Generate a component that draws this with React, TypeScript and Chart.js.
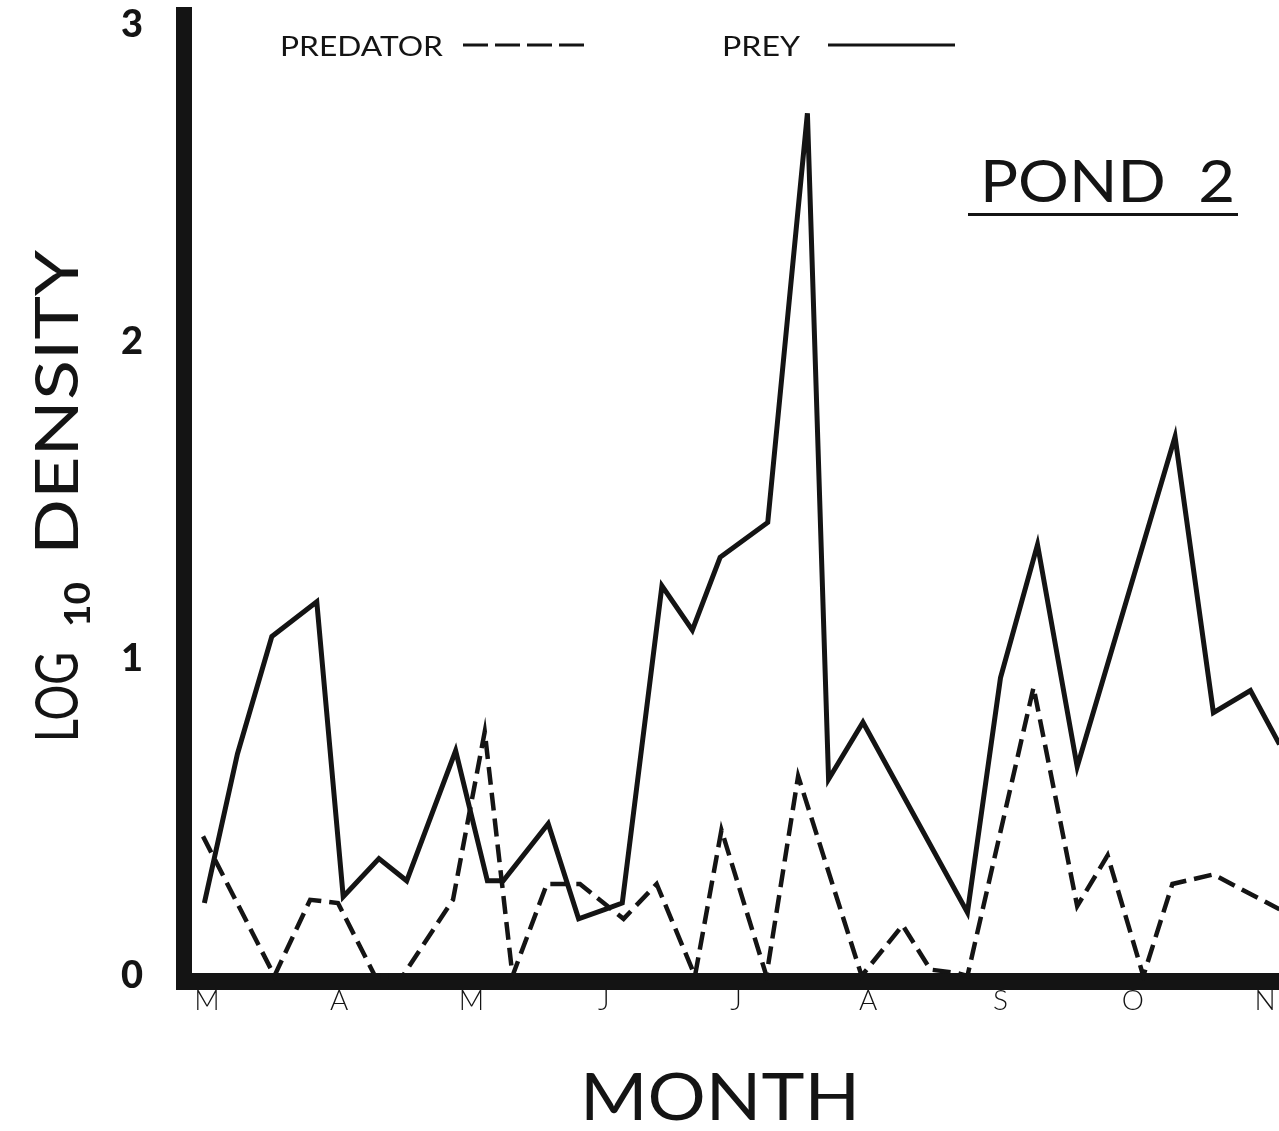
import React, { useEffect, useRef } from 'react';
import { Chart, registerables } from 'chart.js';

Chart.register(...registerables);

// Month tick labels (x = 0 is March, one unit per month)
const MONTHS = ['M', 'A', 'M', 'J', 'J', 'A', 'S', 'O', 'N'];
const Y_TICKS = [0, 1, 2, 3];

// Prey (solid line): x in months from March, y = log10 density
const PREY_X = [-0.02, 0.23, 0.49, 0.83, 1.03, 1.30, 1.51, 1.88, 2.12, 2.24, 2.58, 2.81, 3.01, 3.14, 3.44, 3.67, 3.88, 4.24, 4.54, 4.70, 4.96, 5.75, 6.00, 6.28, 6.58, 7.32, 7.61, 7.89, 8.11];
const PREY_Y = [0.23, 0.70, 1.07, 1.18, 0.25, 0.37, 0.30, 0.71, 0.30, 0.30, 0.48, 0.18, 0.21, 0.23, 1.23, 1.09, 1.32, 1.43, 2.72, 0.62, 0.80, 0.20, 0.94, 1.36, 0.66, 1.70, 0.83, 0.90, 0.73];

// Predator (dashed line)
const PRED_X = [-0.03, 0.51, 0.78, 0.99, 1.27, 1.48, 1.86, 2.10, 2.31, 2.57, 2.82, 3.15, 3.40, 3.69, 3.89, 4.23, 4.47, 4.95, 5.26, 5.47, 5.66, 5.75, 6.25, 6.58, 6.81, 7.08, 7.30, 7.61, 8.11];
const PRED_Y = [0.44, 0.0, 0.24, 0.23, 0.0, 0.0, 0.24, 0.77, 0.0, 0.29, 0.29, 0.18, 0.29, 0.0, 0.46, 0.0, 0.63, 0.0, 0.16, 0.02, 0.01, 0.0, 0.91, 0.22, 0.38, 0.0, 0.29, 0.32, 0.21];

const X_MIN = -0.174;
const X_MAX = 8.106;
const Y_MIN = -0.016;
const Y_MAX = 3.03;

const FONT = '"Lato", "Open Sans", "DejaVu Sans", sans-serif';
const INK = '#141414';

function fitText(ctx: CanvasRenderingContext2D, text: string, x: number, y: number, width: number, size: number, weight = 'normal') {
  ctx.save();
  ctx.font = `${weight} ${size}px ${FONT}`;
  const w = ctx.measureText(text).width;
  ctx.translate(x, y);
  ctx.scale(width / w, 1);
  ctx.textAlign = 'left';
  ctx.textBaseline = 'alphabetic';
  ctx.fillStyle = INK;
  ctx.fillText(text, 0, 0);
  ctx.restore();
}

const decorPlugin = {
  id: 'decor',
  afterDraw(chart: any) {
    const ctx: CanvasRenderingContext2D = chart.ctx;
    // legend
    fitText(ctx, 'PREDATOR', 280, 56, 163, 27);
    ctx.save();
    ctx.strokeStyle = INK;
    ctx.lineWidth = 3;
    ctx.setLineDash([25, 7]);
    ctx.beginPath();
    ctx.moveTo(463, 45);
    ctx.lineTo(586, 45);
    ctx.stroke();
    ctx.setLineDash([]);
    ctx.beginPath();
    ctx.moveTo(828, 45);
    ctx.lineTo(955, 45);
    ctx.stroke();
    ctx.restore();
    fitText(ctx, 'PREY', 722, 56, 78, 27);

    // POND 2
    fitText(ctx, 'POND  2', 980, 202, 255, 58);
    ctx.save();
    ctx.fillStyle = INK;
    ctx.fillRect(968, 213, 270, 3);
    ctx.restore();

    // MONTH
    fitText(ctx, 'MONTH', 580, 1120, 280, 65);

    // Y title rotated
    ctx.save();
    ctx.translate(78, 742);
    ctx.rotate(-Math.PI / 2);
    fitText(ctx, 'LOG', 0, 0, 90, 60);
    fitText(ctx, '10', 115, 12, 45, 36, 'bold');
    fitText(ctx, 'DENSITY', 187, 0, 305, 60);
    ctx.restore();
  },
};

export default function App() {
  const ref = useRef<HTMLCanvasElement>(null);
  useEffect(() => {
    document.body.style.margin = '0';
    const canvas = ref.current!;
    const chart = new Chart(canvas, {
      type: 'line',
      data: {
        datasets: [
          {
            label: 'PREY',
            data: PREY_X.map((x, i) => ({ x, y: PREY_Y[i] })),
            borderColor: INK,
            borderWidth: 5,
            pointRadius: 0,
            tension: 0,
            fill: false,
            borderJoinStyle: 'miter',
          },
          {
            label: 'PREDATOR',
            data: PRED_X.map((x, i) => ({ x, y: PRED_Y[i] })),
            borderColor: INK,
            borderWidth: 4.5,
            borderDash: [18, 8],
            pointRadius: 0,
            tension: 0,
            fill: false,
            borderJoinStyle: 'miter',
          },
        ],
      },
      options: {
        responsive: false,
        animation: false,
        devicePixelRatio: 1,
        layout: { padding: { top: 15, left: 0, right: 0, bottom: 0 } },
        plugins: { legend: { display: false }, tooltip: { enabled: false } },
        scales: {
          x: {
            type: 'linear',
            min: X_MIN,
            max: X_MAX,
            afterBuildTicks: (s: any) => {
              s.ticks = MONTHS.map((_, i) => ({ value: i }));
            },
            afterFit: (s: any) => {
              s.height = 150;
              s.paddingLeft = 0;
              s.paddingRight = 0;
            },
            ticks: {
              callback: (_v: any, i: number) => MONTHS[i],
              font: { family: FONT, size: 28, weight: '300' },
              color: INK,
              padding: 3,
              maxRotation: 0,
              autoSkip: false,
            },
            grid: { drawOnChartArea: false, drawTicks: false },
            border: { display: true, width: 17, color: INK },
          },
          y: {
            type: 'linear',
            min: Y_MIN,
            max: Y_MAX,
            afterBuildTicks: (s: any) => {
              s.ticks = Y_TICKS.map((v) => ({ value: v }));
            },
            afterFit: (s: any) => {
              s.width = 184;
              s.paddingTop = 0;
              s.paddingBottom = 0;
            },
            ticks: {
              callback: (v: any) => String(v),
              font: { family: FONT, size: 38, weight: '900' },
              color: INK,
              padding: 41,
            },
            grid: { drawOnChartArea: false, drawTicks: false },
            border: { display: true, width: 16, color: INK },
          },
        },
      },
      plugins: [decorPlugin],
    } as any);
    return () => chart.destroy();
  }, []);
  return <canvas ref={ref} width={1279} height={1131} style={{ display: 'block' }} />;
}
